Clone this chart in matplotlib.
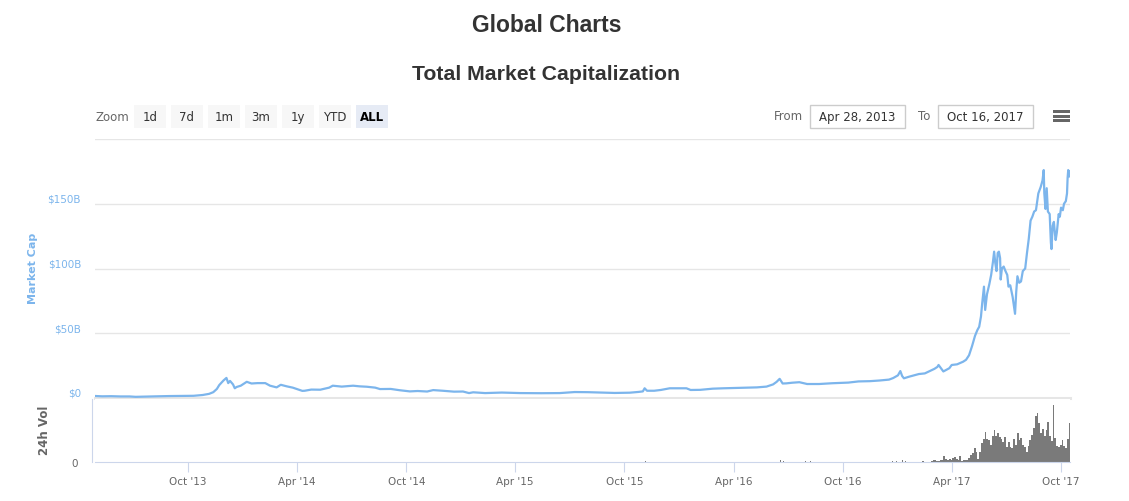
import matplotlib
matplotlib.use("Agg")
import matplotlib.pyplot as plt
import pandas as pd
from matplotlib.patches import Rectangle
from matplotlib.transforms import ScaledTranslation

# ---------------- data ----------------
mcap_dates = [
    "2013-04-28", "2013-05-10", "2013-05-25", "2013-06-10", "2013-06-25", "2013-07-05",
    "2013-07-20", "2013-08-10", "2013-08-30", "2013-09-20", "2013-10-10", "2013-10-25",
    "2013-11-05", "2013-11-12", "2013-11-18", "2013-11-22", "2013-11-29", "2013-12-04",
    "2013-12-07", "2013-12-10", "2013-12-15", "2013-12-18", "2013-12-21", "2013-12-28",
    "2014-01-07", "2014-01-15", "2014-01-25", "2014-02-07", "2014-02-15", "2014-02-26",
    "2014-03-05", "2014-03-15", "2014-03-25", "2014-04-01", "2014-04-10", "2014-04-14",
    "2014-04-25", "2014-05-10", "2014-05-25", "2014-05-31", "2014-06-15", "2014-07-04",
    "2014-07-15", "2014-07-27", "2014-08-10", "2014-08-18", "2014-09-05", "2014-09-20",
    "2014-10-07", "2014-10-20", "2014-11-05", "2014-11-15", "2014-12-01", "2014-12-20",
    "2015-01-04", "2015-01-14", "2015-01-21", "2015-02-10", "2015-03-10", "2015-04-10",
    "2015-05-15", "2015-06-15", "2015-07-10", "2015-08-01", "2015-08-21", "2015-09-15",
    "2015-10-10", "2015-10-25", "2015-11-01", "2015-11-04", "2015-11-08", "2015-11-20",
    "2015-12-01", "2015-12-16", "2016-01-13", "2016-01-20", "2016-02-05", "2016-02-26",
    "2016-03-15", "2016-04-16", "2016-05-10", "2016-05-26", "2016-06-06", "2016-06-12",
    "2016-06-17", "2016-06-22", "2016-06-28", "2016-07-08", "2016-07-20", "2016-08-02",
    "2016-08-22", "2016-09-13", "2016-10-10", "2016-10-27", "2016-11-15", "2016-12-01",
    "2016-12-17", "2016-12-24", "2017-01-01", "2017-01-05", "2017-01-08", "2017-01-11",
    "2017-01-20", "2017-02-05", "2017-02-15", "2017-02-22", "2017-03-03", "2017-03-08",
    "2017-03-10", "2017-03-14", "2017-03-18", "2017-03-22", "2017-03-28", "2017-04-01",
    "2017-04-10", "2017-04-20", "2017-04-25", "2017-04-30", "2017-05-05", "2017-05-10",
    "2017-05-14", "2017-05-17", "2017-05-20", "2017-05-22", "2017-05-25", "2017-05-27",
    "2017-05-30", "2017-06-03", "2017-06-06", "2017-06-09", "2017-06-11", "2017-06-13",
    "2017-06-15", "2017-06-17", "2017-06-19", "2017-06-21", "2017-06-22", "2017-06-24",
    "2017-06-27", "2017-06-30", "2017-07-03", "2017-07-05", "2017-07-08", "2017-07-12",
    "2017-07-16", "2017-07-18", "2017-07-20", "2017-07-23", "2017-07-26", "2017-07-29",
    "2017-08-02", "2017-08-05", "2017-08-08", "2017-08-11", "2017-08-14", "2017-08-17",
    "2017-08-20", "2017-08-24", "2017-08-28", "2017-08-31", "2017-09-02", "2017-09-03",
    "2017-09-05", "2017-09-07", "2017-09-09", "2017-09-12", "2017-09-14", "2017-09-15",
    "2017-09-17", "2017-09-19", "2017-09-21", "2017-09-22", "2017-09-24", "2017-09-27",
    "2017-09-29", "2017-10-01", "2017-10-04", "2017-10-06", "2017-10-09", "2017-10-11",
    "2017-10-12", "2017-10-13", "2017-10-14", "2017-10-15", "2017-10-16",
]
mcap_values = [  # billions USD
    1.55, 1.3, 1.4, 1.2, 1.2, 0.9,
    1.1, 1.3, 1.5, 1.6, 1.7, 2.3,
    3.2, 4.5, 7.0, 10.0, 13.5, 15.5,
    11.5, 13.2, 10.5, 7.5, 8.5, 9.5,
    12.5, 11.2, 11.5, 11.5, 9.5, 8.2,
    10.2, 9.0, 8.0, 6.9, 5.5, 5.6,
    6.5, 6.4, 8.0, 9.5, 8.8, 9.5,
    9.0, 8.7, 8.0, 6.9, 7.0, 6.0,
    5.1, 5.4, 5.0, 6.1, 5.6, 4.9,
    5.0, 3.8, 4.4, 3.8, 4.2, 3.8,
    3.7, 3.8, 4.6, 4.5, 4.2, 3.9,
    4.1, 4.7, 5.1, 7.5, 5.6, 5.6,
    6.2, 7.5, 7.5, 6.2, 6.3, 7.2,
    7.5, 7.9, 8.2, 8.8, 10.5, 12.5,
    14.8, 11.2, 11.3, 11.8, 12.2, 10.8,
    10.8, 11.4, 11.9, 12.8, 13.0, 13.5,
    14.2, 15.4, 17.5, 20.8, 17.0, 15.2,
    16.5, 18.5, 19.0, 20.5, 22.5, 24.0,
    25.5, 23.0, 20.5, 21.5, 23.0, 25.5,
    26.0, 28.0, 29.5, 33.0, 40.0, 48.0,
    52.5, 55.0, 63.0, 73.0, 86.0, 68.0,
    80.0, 88.0, 95.0, 105.0, 113.0, 104.0,
    98.0, 112.0, 113.0, 108.0, 91.5, 100.0,
    101.5, 98.0, 95.0, 86.0, 87.0, 78.0,
    65.0, 82.0, 94.0, 89.0, 90.0, 98.0,
    100.0, 112.0, 123.0, 137.0, 140.0, 144.0,
    145.0, 158.0, 163.0, 168.0, 176.0, 158.0,
    146.0, 162.0, 144.0, 142.0, 120.0, 115.0,
    133.0, 136.0, 126.0, 122.0, 128.0, 142.0,
    140.0, 147.0, 145.0, 150.0, 152.0, 158.0,
    170.0, 176.0, 172.0, 171.0, 175.0,
]

# 24h volume (relative units), every 3 days from 2017-02-25
vol_start = "2017-02-25"
vol_values = [
    0.2, 0.3, 0.4, 0.2, 0.1, 0.3, 0.4, 1.0, 0.5, 0.3,
    0.6, 0.4, 0.7, 0.9, 0.5, 0.3, 1.1, 0.2, 0.3, 0.4,
    0.3, 0.7, 1.2, 1.6, 2.5, 1.8, 0.6, 1.8, 3.4, 4.0,
    5.3, 4.0, 3.8, 3.0, 4.5, 5.6, 4.6, 5.0,
    4.4, 4.0, 3.5, 4.3, 2.6, 3.5, 2.7, 2.5, 4.0, 3.0,
    5.0, 3.8, 4.2, 3.0, 2.6, 1.8, 2.8, 3.8, 4.8, 6.0,
    8.0, 8.5, 6.8, 5.0, 5.8, 4.6, 5.6, 6.9, 4.6, 3.6,
    10.0, 4.2, 2.8, 2.6, 3.0, 3.8, 2.8, 2.4, 4.0, 6.8,
]
sparse_vol_dates = ["2015-11-06", "2016-06-18", "2016-06-23", "2016-07-30", "2016-08-07",
                    "2016-12-23", "2016-12-30", "2017-01-08", "2017-01-13", "2017-02-12"]
sparse_vol_values = [0.15, 0.3, 0.2, 0.15, 0.25, 0.15, 0.2, 0.35, 0.2, 0.15]

xtick_dates = ["2013-10-01", "2014-04-01", "2014-10-01", "2015-04-01", "2015-10-01",
               "2016-04-01", "2016-10-01", "2017-04-01", "2017-10-01"]
xtick_labels = ["Oct '13", "Apr '14", "Oct '14", "Apr '15", "Oct '15",
                "Apr '16", "Oct '16", "Apr '17", "Oct '17"]
ytick_values = [0, 50, 100, 150, 200]
ytick_labels = ["$0", "$50B", "$100B", "$150B", ""]
zoom_buttons = ["1d", "7d", "1m", "3m", "1y", "YTD", "ALL"]
range_from = "Apr 28, 2013"
range_to = "Oct 16, 2017"

# ---------------- figure ----------------
W, H = 1129, 502
fig = plt.figure(figsize=(W / 100, H / 100), dpi=100)
fig.patch.set_facecolor("white")


def fx(x):
    return x / W


def fy(y):
    return 1 - y / H


BLUE = "#7cb5ec"
GRID = "#e6e6e6"
AXIS = "#ccd6eb"
TXT = "#666666"

x0, x1 = 95, 1070
ax = fig.add_axes([fx(x0), fy(399), (x1 - x0) / W, (399 - 140) / H])
axv = fig.add_axes([fx(x0), fy(463), (x1 - x0) / W, (463 - 400) / H], sharex=ax)

md = pd.to_datetime(mcap_dates)
ax.plot(md, mcap_values, color=BLUE, lw=1.6, solid_joinstyle="round", zorder=3)
ax.set_xlim(pd.Timestamp("2013-04-28"), pd.Timestamp("2017-10-16"))
ax.set_ylim(0, 200)
ax.set_yticks(ytick_values)
ax.set_yticklabels(ytick_labels)
ax.grid(axis="y", color=GRID, lw=1)
ax.set_axisbelow(True)
ax.axhline(0, color=GRID, lw=2.2, zorder=2, clip_on=False)
for s in ax.spines.values():
    s.set_visible(False)
ax.tick_params(axis="y", length=0, pad=10, labelcolor=BLUE, labelsize=7.5)
ax.tick_params(axis="x", bottom=False, labelbottom=False)
off = ScaledTranslation(0, 6 / 100, fig.dpi_scale_trans)
for lab in ax.get_yticklabels():
    lab.set_transform(lab.get_transform() + off)

# volume
vd = pd.date_range(vol_start, periods=len(vol_values), freq="3D")
axv.bar(vd, vol_values, width=3.0, color="#7a7a7a", linewidth=0, align="edge")
axv.bar(pd.to_datetime(sparse_vol_dates), sparse_vol_values, width=2.0,
        color="#7a7a7a", linewidth=0)
axv.set_ylim(0, 11)
axv.set_yticks([0])
axv.set_yticklabels(["0"])
axv.tick_params(axis="y", length=0, pad=10.5, labelcolor=TXT, labelsize=7.5)
for lab in axv.get_yticklabels():
    lab.set_transform(lab.get_transform() + off)
for k in ["top", "right"]:
    axv.spines[k].set_visible(False)
axv.spines["left"].set_color(AXIS)
axv.spines["left"].set_position(("outward", 2))
axv.spines["bottom"].set_color(AXIS)
axv.set_xticks(pd.to_datetime(xtick_dates))
axv.set_xticklabels(xtick_labels)
axv.tick_params(axis="x", length=7, color=AXIS, labelcolor=TXT, labelsize=7.5, pad=3)

# axis titles
fig.text(fx(33), fy(268), "Market Cap", rotation=90, color=BLUE, fontsize=8,
         fontweight="bold", ha="center", va="center")
fig.text(fx(45), fy(430), "24h Vol", rotation=90, color=TXT, fontsize=8.5,
         fontweight="bold", ha="center", va="center")

# titles
fig.text(fx(547), fy(25), "Global Charts", ha="center", va="center", fontsize=16.5,
         fontweight="bold", color="#333333", family="Liberation Sans")
fig.text(fx(546), fy(74), "Total Market Capitalization", ha="center", va="center",
         fontsize=15.3, fontweight="bold", color="#333333", family="Liberation Sans")

# range selector
fig.text(fx(96), fy(121), "Zoom", ha="left", va="baseline", fontsize=8.5, color=TXT)
btn_x = [134, 171, 208, 245, 282, 319, 356]
for bx, lab in zip(btn_x, zoom_buttons):
    active = lab == "ALL"
    fig.add_artist(Rectangle((fx(bx), fy(128.5)), 32 / W, 22.5 / H, transform=fig.transFigure,
                             facecolor="#e6ebf5" if active else "#f7f7f7", edgecolor="none"))
    fig.text(fx(bx + 16), fy(121), lab, ha="center", va="baseline", fontsize=8.5,
             color="#000000" if active else "#333333",
             fontweight="bold" if active else "normal")

fig.text(fx(803), fy(120.5), "From", ha="right", va="baseline", fontsize=8.5, color=TXT)
fig.text(fx(930), fy(120.5), "To", ha="right", va="baseline", fontsize=8.5, color=TXT)
for bx, bw, lab in [(810, 95, range_from), (938, 95, range_to)]:
    fig.add_artist(Rectangle((fx(bx), fy(128.5)), bw / W, 22.5 / H, transform=fig.transFigure,
                             facecolor="white", edgecolor="#cccccc", lw=1))
    fig.text(fx(bx + bw / 2), fy(121), lab, ha="center", va="baseline", fontsize=8.5,
             color="#333333")

# menu icon
for yy in [111, 115.7, 120.3]:
    fig.add_artist(Rectangle((fx(1053), fy(yy + 3)), 16.5 / W, 3 / H, transform=fig.transFigure,
                             facecolor="#666666", edgecolor="none"))

fig.savefig("out.png", dpi=100)
